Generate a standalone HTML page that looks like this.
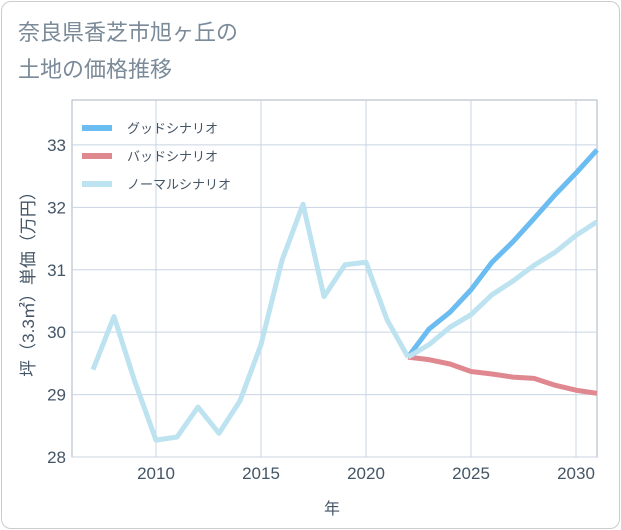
<!DOCTYPE html>
<html><head><meta charset="utf-8"><style>
body{margin:0;background:#fff;font-family:"Liberation Sans","Noto Sans CJK JP",sans-serif;}
#card{position:absolute;left:1px;top:1px;width:617px;height:526px;border:1px solid #ccc;border-radius:10px;background:#fff;}
</style></head><body>
<div id="card"></div>
<svg id="chart" width="621" height="530" style="position:absolute;left:0;top:0">
<text x="18" y="40" font-size="22" fill="#7a8a99">奈良県香芝市旭ヶ丘の</text>
<text x="18" y="77" font-size="22" fill="#7a8a99">土地の価格推移</text>
<g id="plot"></g>
<text x="332" y="514" font-size="16" fill="#445566" text-anchor="middle">年</text>
<text transform="translate(34,280) rotate(-90)" font-size="17" fill="#445566" text-anchor="middle">坪（3.3㎡）単価（万円）</text>
</svg>
<script>
const years=[2007,2008,2009,2010,2011,2012,2013,2014,2015,2016,2017,2018,2019,2020,2021,2022];
const history=[29.4,30.25,29.2,28.27,28.32,28.8,28.38,28.9,29.8,31.15,32.05,30.57,31.08,31.12,30.2,29.6];
const futureYears=[2022,2023,2024,2025,2026,2027,2028,2029,2030,2031];
const good=[29.6,30.05,30.32,30.68,31.12,31.45,31.82,32.2,32.55,32.92];
const normal=[29.6,29.8,30.08,30.28,30.6,30.82,31.07,31.28,31.55,31.77];
const bad=[29.6,29.56,29.49,29.37,29.33,29.28,29.26,29.15,29.07,29.02];
const yTicks=[28,29,30,31,32,33];
const xTicks=[2010,2015,2020,2025,2030];
const L=72,R=597,T=100,B=457,x0=2006,x1=2031,yMin=28,yMax=33.72;
const X=v=>L+(v-x0)/(x1-x0)*(R-L);
const Y=v=>B-(v-yMin)/(yMax-yMin)*(B-T);
const ns="http://www.w3.org/2000/svg",g=document.getElementById('plot');
function mk(t,a){const e=document.createElementNS(ns,t);for(const k in a)e.setAttribute(k,a[k]);g.appendChild(e);return e;}
const bg=mk('rect',{x:L,y:T,width:R-L,height:B-T,fill:'#fff',stroke:'#aab4c0'});


yTicks.forEach(v=>{const l=mk('line',{x1:L,x2:R,y1:Y(v),y2:Y(v),stroke:'#c8d4e2'});


const t=mk('text',{x:L-6,y:Y(v)+6,'font-size':17,fill:'#445566','text-anchor':'end'});t.textContent=v;

});
xTicks.forEach(v=>{const l=mk('line',{x1:X(v),x2:X(v),y1:T,y2:B,stroke:'#c8d4e2'});


const t=mk('text',{x:X(v),y:B+22,'font-size':17,fill:'#445566','text-anchor':'middle'});t.textContent=v;

});
function line(xs,ys,c,name){const p=mk('polyline',{points:xs.map((x,i)=>X(x)+','+Y(ys[i])).join(' '),fill:'none',stroke:c,'stroke-width':5,'stroke-linejoin':'round'});

}
line(futureYears,bad,'#e0888f','bad-scenario-line');
line(futureYears,good,'#6bbcf0','good-scenario-line');
line(futureYears,normal,'#bde2f0','normal-scenario-line');
line(years,history,'#bde2f0','history-line');
[['グッドシナリオ','#6bbcf0'],['バッドシナリオ','#e0888f'],['ノーマルシナリオ','#bde2f0']].forEach((d,i)=>{const y=128+i*28;
const l=mk('line',{x1:82,x2:112,y1:y,y2:y,stroke:d[1],'stroke-width':6});


const t=mk('text',{x:127,y:y+5,'font-size':13,fill:'#445566'});t.textContent=d[0];

});
</script>
</body></html>
